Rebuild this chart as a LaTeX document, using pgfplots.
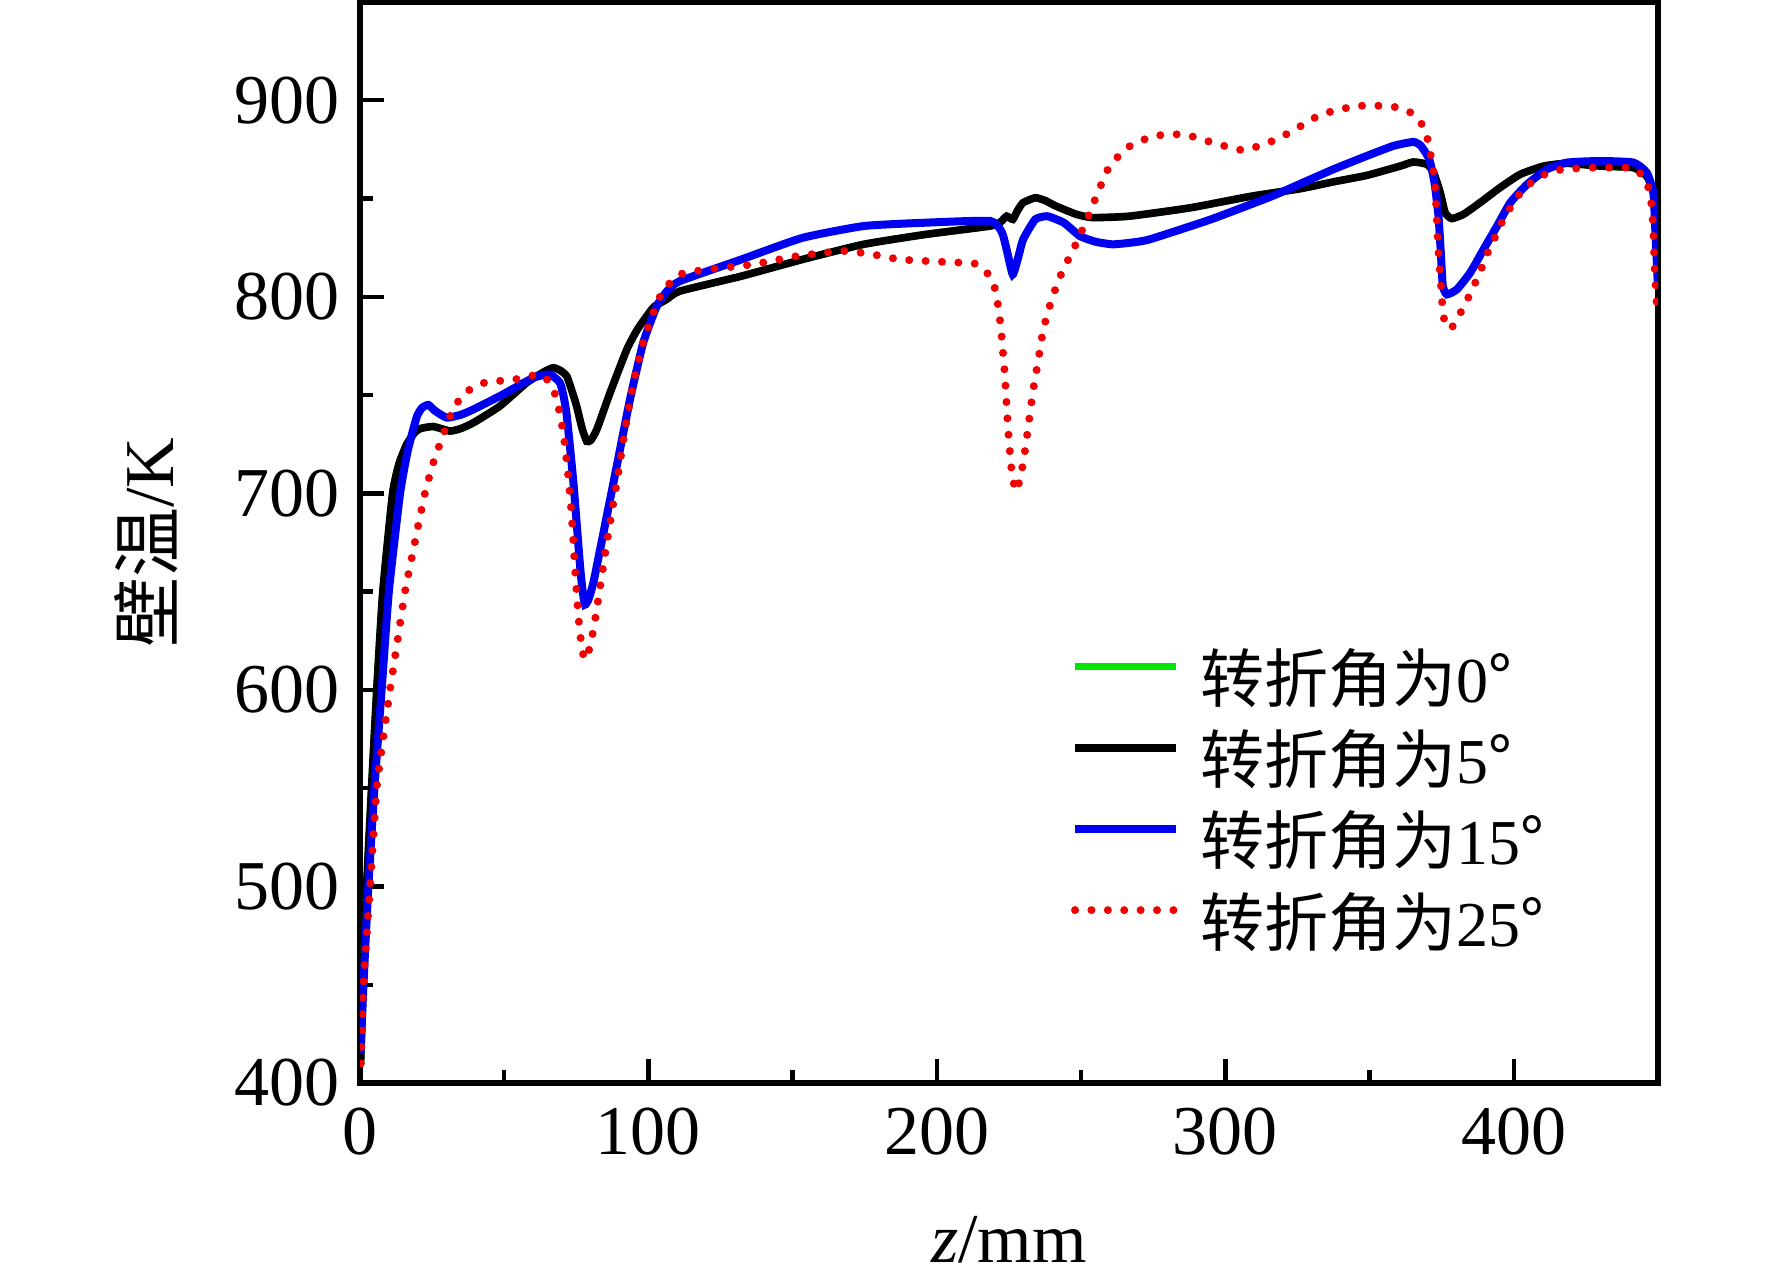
\documentclass[border=0pt]{standalone}
\usepackage{fontspec}
\setmainfont{Liberation Serif}
\newfontfamily\cjk{Noto Sans CJK SC}
\usepackage{pgfplots}
\pgfplotsset{compat=1.18}
\definecolor{cgreen}{RGB}{0,230,0}
\definecolor{cblue}{RGB}{0,0,240}
\definecolor{cred}{RGB}{240,0,0}
\begin{document}
\begin{tikzpicture}
\path[use as bounding box] (-90pt,-49.75pt) rectangle (353pt,270.75pt);
\begin{axis}[
  at={(0,0)}, anchor=south west,
  scale only axis, width=324.5pt, height=270.25pt,
  xmin=0, xmax=450, ymin=400, ymax=950,
  xtick={0,100,200,300,400}, ytick={400,500,600,700,800,900},
  minor x tick num=1, minor y tick num=1,
  xtick pos=left, ytick pos=left,
  tick align=inside,
  major tick length=6pt, minor tick length=3.3pt,
  axis line style={line width=1.3pt},
  every tick/.style={line width=1.1pt, black},
  /pgf/number format/assume math mode=true,
  tick label style={font=\fontsize{17.5}{20}\selectfont},
  xticklabel style={yshift=-2.8pt},
  yticklabel style={xshift=-1.5pt},
  xlabel={\textit{z}/mm},
  ylabel={{\cjk 壁温}/K},
  label style={font=\fontsize{17.5}{20}\selectfont},
  xlabel style={at={(axis description cs:0.5,-0.1656)}, anchor=base},
  ylabel style={at={(axis description cs:-0.165,0.5)}, anchor=center},
  legend style={draw=none, fill=none, inner sep=0pt, outer sep=0pt,
    at={(axis cs:246.5,618)}, anchor=north west,
    font=\fontsize{16}{18}\selectfont, row sep=4.3pt,
    nodes={inner sep=0pt, text height=12pt, text depth=4pt}},
  legend cell align=left,
  /tikz/every odd column/.append style={column sep=5pt},
  legend image code/.code={\draw[#1] (0pt,5pt) -- (25.25pt,5pt);},
  every axis plot/.append style={smooth, tension=0.3},
]
\addplot[cgreen, line width=1.8pt] coordinates {
(0.2,410)(1.0,450)(2.3,500)(4.0,550)(5.8,600)(7.9,650)(11.3,700)(13.5,715)(16.2,725)(19,731)(21,733)(25.4,734)(31.2,731.7)(35,733)(39.3,735.9)(48.5,744.4)(57.8,756.3)(64,762)(67,763.9)(69.5,762.5)(71.7,759.6)(73.5,752)(75.1,744.4)(77,733)(78.6,726.5)(80,727)(82.1,732.5)(86.7,751.2)(92.5,773.2)(96,783)(99.4,790.2)(102,795)(106.3,798.7)(110.9,802.9)(132.2,810.5)(153.4,819)(174.6,826.7)(195.9,831.7)(218.5,836)(222,838)(224.2,841)(226.3,839.4)(228,844)(229.9,847.9)(234.1,850.4)(237.5,849)(241.2,846.2)(248.3,842)(253.9,840.3)(266.6,841)(287.9,845.3)(309.1,851.2)(326,855)(337.5,858.5)(349.1,861.8)(360.6,866.5)(365.2,868.6)(369.9,867.4)(372.2,863.2)(374.5,853)(376.2,842.8)(378.5,839.8)(382.6,842)(388.3,847.9)(395.3,855.6)(402.2,862.3)(410.3,866.5)(418.4,867.9)(430,866.5)(441.5,865.7)(446.1,861.4)(448.4,853)(449.4,832.6)(450,805)
};
\addlegendentry{{\cjk 转折角为}0{\cjk °}}
\addplot[black, line width=1.9pt] coordinates {
(0.2,410)(1.0,450)(2.3,500)(4.0,550)(5.8,600)(7.9,650)(11.3,700)(13.5,715)(16.2,725)(19,731)(21,733)(25.4,734)(31.2,731.7)(35,733)(39.3,735.9)(48.5,744.4)(57.8,756.3)(64,762)(67,763.9)(69.5,762.5)(71.7,759.6)(73.5,752)(75.1,744.4)(77,733)(78.6,726.5)(80,727)(82.1,732.5)(86.7,751.2)(92.5,773.2)(96,783)(99.4,790.2)(102,795)(106.3,798.7)(110.9,802.9)(132.2,810.5)(153.4,819)(174.6,826.7)(195.9,831.7)(218.5,836)(222,838)(224.2,841)(226.3,839.4)(228,844)(229.9,847.9)(234.1,850.4)(237.5,849)(241.2,846.2)(248.3,842)(253.9,840.3)(266.6,841)(287.9,845.3)(309.1,851.2)(326,855)(337.5,858.5)(349.1,861.8)(360.6,866.5)(365.2,868.6)(369.9,867.4)(372.2,863.2)(374.5,853)(376.2,842.8)(378.5,839.8)(382.6,842)(388.3,847.9)(395.3,855.6)(402.2,862.3)(410.3,866.5)(418.4,867.9)(430,866.5)(441.5,865.7)(446.1,861.4)(448.4,853)(449.4,832.6)(450,805)
};
\addlegendentry{{\cjk 转折角为}5{\cjk °}}
\addplot[cblue, line width=2pt] coordinates {
(0.2,415)(1.2,450)(2.9,500)(5,550)(7.5,600)(10,650)(13.9,700)(16.6,722)(19.7,739)(21.5,743.5)(23.7,745)(26,742)(30.1,738.5)(35,740)(39.3,742.7)(48.5,749.5)(60.1,758.8)(65.9,760.5)(69.3,756.3)(70.5,750)(71.7,739.4)(74.0,705.3)(76.3,662.9)(77.2,650)(78.0,643.4)(79.2,646)(80.9,654.5)(84.4,679.9)(89.0,713.8)(93.6,747.8)(98.2,776.7)(102.9,795.3)(106.5,803)(110.9,808)(132.2,819)(153.4,830)(174.6,836)(195.9,837.7)(218.5,838.6)(222.6,832.6)(224.5,822)(226.3,811.4)(228,819)(229.9,829.2)(234.1,839.4)(238.3,841)(244,837.7)(249.6,830.9)(255,828)(260.9,826.7)(267,827.5)(273.7,829.2)(295,839.4)(316.2,851.2)(326,857.5)(337.5,864.9)(349.1,871.7)(358.3,876.8)(365.2,878.8)(367.8,876.8)(370.7,870)(372.5,858.1)(373.9,841.1)(374.7,822.5)(375.4,805.5)(376.8,801.2)(380.3,803.8)(384.9,812.3)(389.5,824.1)(394.2,836)(398.8,847.9)(404.6,857.2)(411.5,864.9)(418.4,868.3)(430,869.1)(441.5,868.3)(446.1,863.2)(448.4,853)(449.1,832.6)(450,805)
};
\addlegendentry{{\cjk 转折角为}15{\cjk °}}
\addplot[cred, line width=2pt, line cap=round, dash pattern=on 0pt off 4.1pt] coordinates {
(0.3,410)(1.2,450)(3.5,500)(5.8,550)(8,575)(10.4,600)(13,625)(15.6,650)(19,675)(22.5,700)(25.5,716)(28.9,730)(32,742)(35.8,750.3)(41,755.4)(46.2,757.1)(51.4,757.4)(56.6,758.8)(62.4,760.5)(65.9,756.3)(68.2,747.8)(70.5,730.8)(72.2,708.7)(73.4,688.4)(74.5,662.9)(75.7,637.5)(76.9,621.4)(78.0,615.4)(79.8,622.2)(81.5,635.7)(83.8,657.8)(86.1,679.9)(89.0,705.3)(91.9,732.5)(94.8,756.3)(98.2,776.7)(101.7,792)(105,803)(110.9,811.4)(120.9,814)(136.4,816.5)(152,820.8)(167.6,823.3)(177.5,821.6)(187.4,819)(203,817.7)(212.9,817)(216.4,814)(219.3,808)(220.7,800.4)(222.1,785.1)(223.5,761.4)(224.2,744.4)(224.9,728.3)(225.8,713)(227.3,701.1)(229.1,708.7)(230.6,722.3)(232,737.6)(233.4,752.9)(235.2,768.1)(236.9,783.4)(239.8,798.7)(243.3,812.3)(247.6,825)(251.8,838.6)(255.3,851.2)(259.6,865.7)(265.9,875.8)(275.1,881.8)(285.7,882.6)(295.7,878.4)(306.3,874.6)(316.2,879.2)(323.2,884.3)(331,891.1)(335.2,893.7)(345.6,897.1)(356,897.1)(361.2,895.8)(365.2,892.9)(368.7,886.5)(370.4,878.5)(372.2,863.3)(372.8,854.7)(373.3,839.4)(373.9,822.5)(374.7,807.2)(375.1,798.7)(375.6,790.2)(376.8,784.3)(378.5,784.3)(381.2,791)(383.4,797)(385.8,804.6)(388.3,812.3)(390.1,819.9)(392.4,826.7)(394.7,834.3)(397,841.1)(399.9,847.9)(402.8,853.8)(406.8,858.9)(412,863.2)(417.3,864.9)(427.7,865.7)(438.7,865.7)(442.2,864.9)(445.6,859.8)(447.4,851.3)(448.3,836)(448.8,815.6)(449.5,797.2)
};
\addlegendentry{{\cjk 转折角为}25{\cjk °}}
\end{axis}
\end{tikzpicture}
\end{document}
